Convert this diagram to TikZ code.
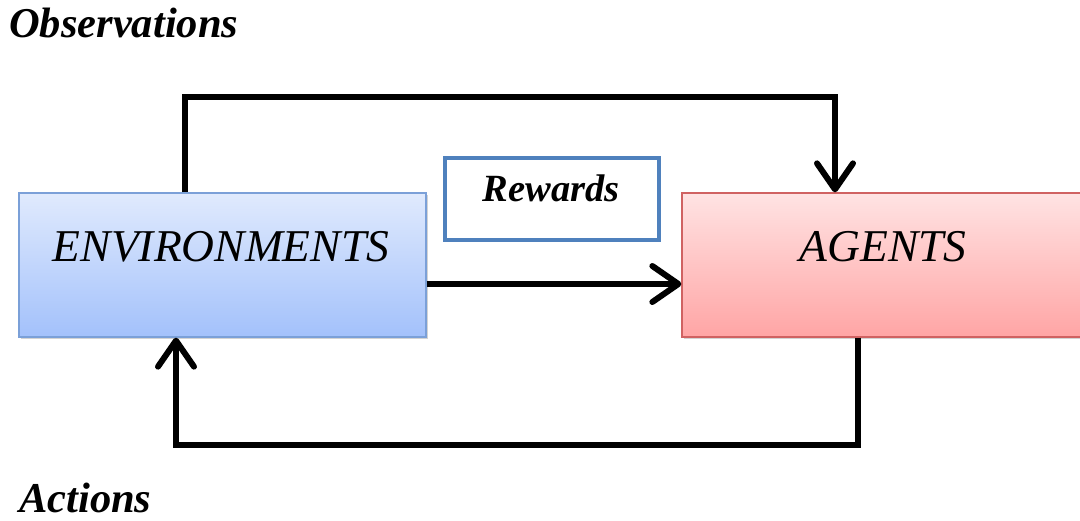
\documentclass[tikz,border=0pt]{standalone}
\usepackage{fontspec}
\setmainfont{Liberation Serif}
\usetikzlibrary{arrows.meta,shadows}
\definecolor{envtop}{HTML}{E0EAFD}
\definecolor{envbot}{HTML}{A3C1FB}
\definecolor{envline}{HTML}{7BA0D8}
\definecolor{agtop}{HTML}{FFE3E3}
\definecolor{agbot}{HTML}{FFA5A5}
\definecolor{agline}{HTML}{D06262}
\definecolor{rewline}{HTML}{4F81BD}
\tikzset{
  block/.style={rectangle, inner sep=0pt, line width=1.3pt,
    drop shadow={shadow xshift=2pt, shadow yshift=-2pt, opacity=0.35}},
  envbox/.style={block, draw=envline, top color=envtop, bottom color=envbot,
    minimum width=407pt, minimum height=144pt},
  agbox/.style={block, draw=agline, top color=agtop, bottom color=agbot,
    minimum width=402pt, minimum height=144pt},
  rewbox/.style={rectangle, draw=rewline, line width=3.5pt, fill=white,
    minimum width=214pt, minimum height=82pt, inner sep=0pt},
  boxtext/.style={font=\fontsize{45.5}{46}\selectfont\itshape, inner sep=0pt},
  tag/.style={font=\fontsize{42.5}{43}\selectfont\bfseries\itshape, inner sep=0pt, anchor=base west},
  rewtext/.style={font=\fontsize{38.5}{39}\selectfont\bfseries\itshape, inner sep=0pt},
  flow/.style={line width=6pt, line join=miter, black,
    -{Straight Barb[length=26pt, width=36pt, round]}}
}
\begin{document}
\begin{tikzpicture}[x=1pt, y=-1pt]
\useasboundingbox (0,0) rectangle (1080,520);

% the two main blocks
\node[envbox] (env) at (222.5,265) {};
\node[agbox] (agent) at (883,265) {};
\node[boxtext] (envtxt) at (221,247) {ENVIRONMENTS};
\node[boxtext] (agtxt) at (883,247) {AGENTS};

% reward box between the blocks
\node[rewbox] (rew) at (552,199) {};
\node[rewtext] (rewtxt) at (551,188) {Rewards};

% side labels
\node[tag] (obs) at (9,37) {Observations};
\node[tag] (act) at (19,512) {Actions};

% routing corners
\coordinate (otop) at (835,97);
\coordinate (oleft) at (185,97);
\coordinate (abot) at (858,445);
\coordinate (aleft) at (176,445);

% observations loop: environment -> agent (over the top)
\draw[flow] (env.north -| oleft) -- (oleft) -- (otop) -- (agent.north -| otop);
% direct link environment -> agent
\draw[flow] (env.east |- 0,284) -- (agent.west |- 0,284);
% actions loop: agent -> environment (under the bottom)
\draw[flow] (agent.south -| abot) -- (abot) -- (aleft) -- (env.south -| aleft);
\end{tikzpicture}
\end{document}
